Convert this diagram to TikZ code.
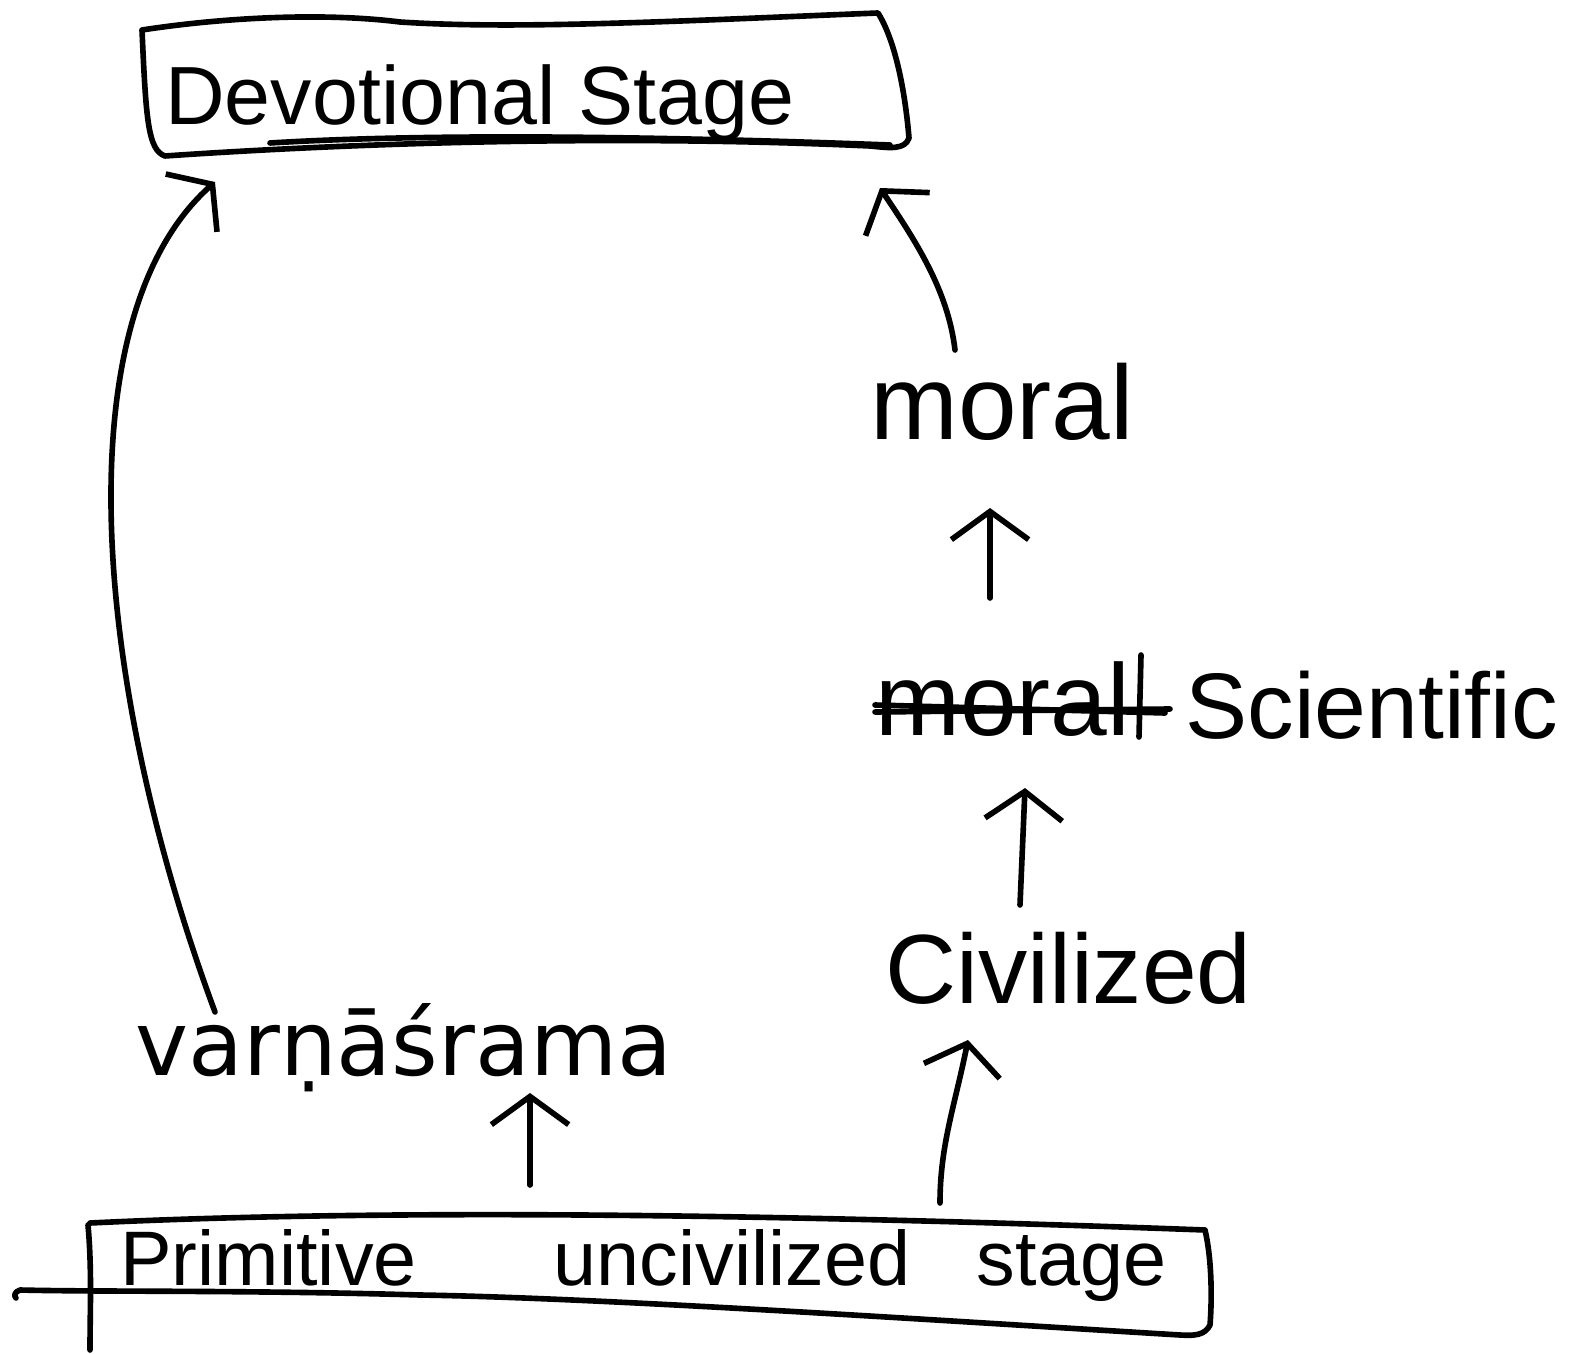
\documentclass[tikz,border=0pt]{standalone}
\usepackage{fontspec}
\setmainfont{Liberation Sans}
\newfontfamily\djv{DejaVu Sans}
\usetikzlibrary{arrows.meta,calc}
\tikzset{
  hand/.style={line width=3.2pt, line cap=round, line join=round},
  arr/.style={hand, -{Straight Barb[length=16pt,width=44pt,line width=3.2pt]}},
  lbl/.style={anchor=base west, inner sep=0pt},
}
\begin{document}
\begin{tikzpicture}[x=0.02cm,y=-0.02cm]
\useasboundingbox (0,0) rectangle (1572,1354);
\fill[white] (0,0) rectangle (1572,1354);
% top box
\draw[hand] (142,30) .. controls (220,18) and (320,12) .. (400,22) .. controls (520,30) and (700,20) .. (878,13)
  .. controls (895,40) and (905,90) .. (909,138) .. controls (905,150) and (890,148) .. (870,146)
  .. controls (650,136) and (400,140) .. (165,156) .. controls (148,150) and (146,120) .. cycle;
\draw[hand] (270,143) .. controls (450,132) and (700,138) .. (890,145);
% bottom box
\draw[hand] (90,1223) .. controls (400,1208) and (800,1215) .. (1205,1230)
  .. controls (1212,1260) and (1212,1300) .. (1210,1325) .. controls (1205,1335) and (1195,1336) .. (1180,1335)
  .. controls (900,1318) and (600,1298) .. (420,1295) .. controls (250,1290) and (100,1292) .. (20,1290)
  .. controls (14,1292) and (14,1296) .. (16,1298);
\draw[hand] (88,1225) .. controls (92,1270) and (90,1310) .. (90,1350);
% text nodes
\node[lbl] (devo) at (165,125) {\fontsize{47}{50}\selectfont Devotional Stage};
\node[lbl] (moral) at (870,440) {\fontsize{60}{64}\selectfont moral};
\node[lbl] (strk) at (875,735) {\fontsize{58}{60}\selectfont moral};
\node[lbl] (sci) at (1185,738) {\fontsize{53}{56}\selectfont Scientific};
\node[lbl] (civ) at (885,1003) {\fontsize{56}{60}\selectfont Civilized};
\node[lbl] (varna) at (135,1075) {\djv\fontsize{51}{55}\selectfont varṇāśrama};
\node[lbl] (prim) at (120,1285) {\fontsize{44}{48}\selectfont Primitive\hspace{78pt}uncivilized\hspace{38pt}stage};
% strike-through and bar
\draw[hand] ($(strk.base west)+(0,-23)$) -- ($(strk.base west)+(295,-26)$);
\draw[hand] ($(strk.base west)+(0,-30)$) -- ($(strk.base west)+(290,-22)$);
\draw[hand] ($(strk.base west)+(266,-80)$) -- ($(strk.base west)+(264,2)$);
% connectors
\draw[arr] ($(varna.base west)+(80,-63)$) .. controls ($(varna.base west)+(-45,-400)$) and ($(varna.base west)+(-70,-760)$) .. ($(devo.base west)+(50,57)$);
\draw[arr] ($(moral.base west)+(85,-90)$) .. controls ($(moral.base west)+(78,-150)$) and ($(moral.base west)+(45,-200)$) .. ($(devo.base west)+(715,63)$);
\draw[arr] ($(strk.base west)+(115,-137)$) -- ($(moral.base west)+(120,68)$);
\draw[arr] ($(civ.base west)+(135,-98)$) -- ($(strk.base west)+(150,53)$);
\draw[arr] ($(prim.base west)+(410,-100)$) -- ($(varna.base west)+(395,18)$);
\draw[arr] ($(prim.base west)+(820,-82)$) .. controls ($(prim.base west)+(820,-140)$) and ($(prim.base west)+(835,-180)$) .. ($(civ.base west)+(83,37)$);
\end{tikzpicture}
\end{document}
